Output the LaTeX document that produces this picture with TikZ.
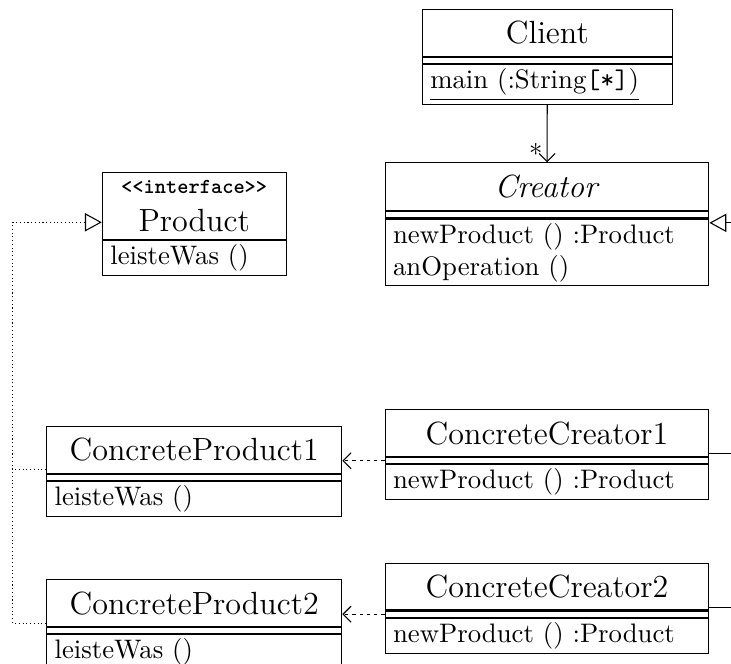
\documentclass[tikz,border=0pt]{standalone}
\usepackage{amsmath}
\usepackage{tikz}
\usetikzlibrary{arrows.meta}

\tikzset{
  classname/.style={draw, anchor=north, font=\large, inner sep=0pt, minimum width=#1, minimum height=17.5pt},
  classattr/.style={draw, anchor=north, inner sep=0pt, minimum width=#1, minimum height=2.3pt},
  classops/.style={draw, anchor=north, align=left, text width=#1, inner xsep=3pt, inner ysep=1.5pt},
  inherit/.style={-{Triangle[open, length=6.3pt, width=6.8pt]}},
  realize/.style={inherit, densely dotted},
  depend/.style={-{Straight Barb[length=3pt, width=6pt]}, dash pattern=on 1.2pt off 1.5pt},
}

\begin{document}
\begin{tikzpicture}
  [x=0.374pt, y=-0.374pt]
  \useasboundingbox (0,0) rectangle (731,664);
  \clip (0,0) rectangle (731,664);

  \node[classname=93.5pt] (client) at (547.3, 9) {Client};
  \node[classattr=93.5pt] (client-attr) at (client.south) {};
  \node[classops=87.5pt] (client-ops) at (client-attr.south) {\underline{main (:String\texttt{[*]})}};

  \node[classname=121.1pt, minimum height=17.9pt] (creator) at (547, 162.3) {\textit{Creator}};
  \node[classattr=121.1pt] (creator-attr) at (creator.south) {};
  \node[classops=115.1pt] (creator-ops) at (creator-attr.south) {newProduct () :Product\\ anOperation ()};

  \node[classname=68.7pt, minimum height=25pt, align=center] (product) at (194.2, 172.3) {{\footnotesize\ttfamily\bfseries <<interface>>}\\ Product};
  \node[classops=62.7pt] (product-ops) at (product.south) {leisteWas ()};

  \node[classname=110.4pt] (cp1) at (194.2, 426) {ConcreteProduct1};
  \node[classattr=110.4pt] (cp1-attr) at (cp1.south) {};
  \node[classops=104.4pt] (cp1-ops) at (cp1-attr.south) {leisteWas ()};

  \node[classname=110.4pt] (cp2) at (194.2, 579.3) {ConcreteProduct2};
  \node[classattr=110.4pt] (cp2-attr) at (cp2.south) {};
  \node[classops=104.4pt] (cp2-ops) at (cp2-attr.south) {leisteWas ()};

  \node[classname=121.1pt] (cc1) at (547, 409.3) {ConcreteCreator1};
  \node[classattr=121.1pt] (cc1-attr) at (cc1.south) {};
  \node[classops=115.1pt] (cc1-ops) at (cc1-attr.south) {newProduct () :Product};

  \node[classname=121.1pt] (cc2) at (547, 562.7) {ConcreteCreator2};
  \node[classattr=121.1pt] (cc2-attr) at (cc2.south) {};
  \node[classops=115.1pt] (cc2-ops) at (cc2-attr.south) {newProduct () :Product};

  \coordinate (creator-in) at ([yshift=-1.65pt]creator-ops.north east);
  \coordinate (product-in) at ([yshift=-6pt]product.west);

  \draw[-{Straight Barb[length=3pt, width=6pt]}] (client-ops) -- node[pos=.85, left, inner sep=1.5pt] {*} (creator);

  \foreach \i in {1,2}
  \draw[depend] (cc\i-attr.west) -- (cc\i-attr.west -| cp\i.east);

  \draw ([yshift=1.26pt]cc1.south east) -- ++(13.6pt,0);
  \draw[inherit] ([yshift=1.26pt]cc2.south east) -- ++(13.6pt,0) |- (creator-in);

  \draw[densely dotted] ([yshift=1.46pt]cp1.south west) -- ++(-12.5pt,0);
  \draw[realize] ([yshift=1.46pt]cp2.south west) -- ++(-12.5pt,0) |- (product-in);

\end{tikzpicture}
\end{document}
